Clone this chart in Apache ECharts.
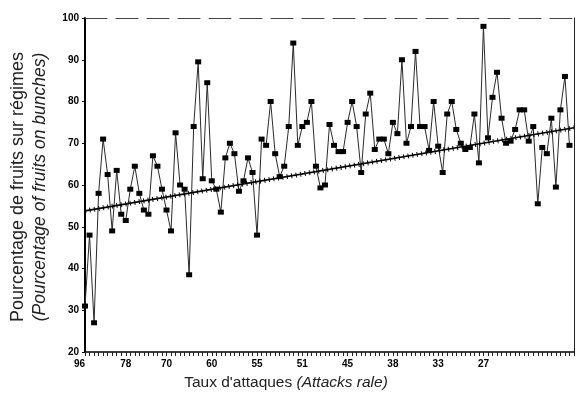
<!DOCTYPE html>
<html>
<head>
<meta charset="utf-8">
<script src="https://cdn.jsdelivr.net/npm/echarts@6/dist/echarts.min.js"></script>
<style>
  html, body { margin: 0; padding: 0; background: #fff; }
  #chart { width: 577px; height: 397px; }
</style>
</head>
<body>
<div id="chart"></div>
<script>
// pourcentage de fruits, dans l'ordre des taux d'attaques décroissants
const fruitPct = [
  31, 48, 27, 58, 71, 62.5, 49, 63.5, 53, 51.5,
  59, 64.5, 58, 54, 53, 67, 64.5, 59, 54, 49,
  72.5, 60, 59, 38.5, 74, 89.5, 61.5, 84.5, 61, 59,
  53.5, 66.5, 70, 67.5, 58.5, 61, 66.5, 63, 48, 71,
  69.5, 80, 67.5, 62, 64.5, 74, 94, 69.5, 74, 75,
  80, 64.5, 59.3, 60, 74.5, 69.5, 68, 68, 75, 80,
  74, 63, 77, 82, 68.5, 71, 71, 67.5, 75, 72.3,
  90, 70, 74, 92, 74, 74, 68.3, 80, 69.3, 63,
  77, 80, 73.3, 70, 68.5, 69, 77, 65.3, 98, 71.3,
  81, 87, 76, 70, 70.5, 73.3, 78, 78, 70.5, 74,
  55.5, 69, 67.5, 76, 59.5, 78, 86, 69.5
];
// droite de régression : valeurs aux deux bords
const trendStart = 53.8;
const trendEnd = 73.7;
// étiquettes de l'axe x (taux d'attaques) et rang du point où elles tombent
const xTickLabels = ['96', '78', '70', '60', '55', '51', '45', '38', '33', '27'];
const xTickIndex = [0, 9, 18, 28, 38, 48, 58, 68, 78, 88];

const slots = [];
for (let i = 0; i <= fruitPct.length; i++) slots.push(String(i));
const lastSlot = slots.length - 1;
const trendData = [[0, trendStart], [lastSlot, trendEnd]];

const font = 'Liberation Sans, Arial, sans-serif';
const chart = echarts.init(document.getElementById('chart'), null, { renderer: 'canvas' });

chart.setOption({
  animation: false,
  backgroundColor: '#fff',
  grid: { left: 85, right: 1, top: 18, bottom: 45 },
  xAxis: [
    {
      type: 'category',
      data: slots,
      boundaryGap: false,
      axisLine: { lineStyle: { color: '#000', width: 1.5 } },
      axisTick: { interval: 0, length: 4, lineStyle: { color: '#222', width: 1 } },
      axisLabel: {
        interval: 0,
        margin: 7,
        color: '#000',
        fontFamily: font,
        fontWeight: 'bold',
        fontSize: 10,
        alignMinLabel: 'right',
        formatter: (v, idx) => {
          const k = xTickIndex.indexOf(idx);
          return k >= 0 ? xTickLabels[k] : '';
        }
      },
      splitLine: { show: false }
    },
    {
      type: 'category',
      position: 'top',
      data: slots,
      boundaryGap: false,
      axisLine: { lineStyle: { color: '#444', width: 1, type: [22, 9] } },
      axisTick: { show: false },
      axisLabel: { show: false }
    }
  ],
  yAxis: [
    {
      type: 'value',
      min: 20,
      max: 100,
      interval: 10,
      axisLine: { show: true, lineStyle: { color: '#000', width: 2 } },
      axisTick: { show: true, length: 3, lineStyle: { color: '#000' } },
      axisLabel: {
        margin: 6,
        color: '#000',
        fontFamily: font,
        fontWeight: 'bold',
        fontSize: 10
      },
      splitLine: { show: false }
    },
    {
      type: 'value',
      position: 'right',
      min: 20,
      max: 100,
      axisLine: { show: true, lineStyle: { color: '#222', width: 1 } },
      axisTick: { show: false },
      axisLabel: { show: false },
      splitLine: { show: false }
    }
  ],
  series: [
    {
      name: 'fruits',
      type: 'line',
      data: fruitPct,
      symbol: 'rect',
      symbolSize: [6, 5],
      itemStyle: { color: '#000' },
      lineStyle: { color: '#2a2a2a', width: 1 },
      z: 3
    },
    {
      name: 'tendance',
      type: 'line',
      data: trendData,
      symbol: 'none',
      lineStyle: { color: '#000', width: 1.6 },
      z: 4
    },
    {
      // petites graduations le long de la droite
      name: 'tendance-graduations',
      type: 'line',
      data: trendData,
      symbol: 'none',
      lineStyle: { color: '#000', width: 5, type: [1, 3.546] },
      z: 4
    }
  ],
  graphic: [
    {
      type: 'text',
      x: 286,
      y: 383,
      style: {
        text: "{n|Taux d'attaques }{i|(Attacks rale)}",
        align: 'center',
        verticalAlign: 'middle',
        rich: {
          n: { fontFamily: font, fontSize: 15.5, fill: '#222' },
          i: { fontFamily: font, fontSize: 15.5, fontStyle: 'italic', fill: '#222' }
        }
      }
    },
    {
      type: 'text',
      x: 29,
      y: 187,
      rotation: Math.PI / 2,
      style: {
        text: '{n|Pourcentage de fruits sur régimes}\n{i|(Pourcentage of fruits on bunches)}',
        align: 'center',
        verticalAlign: 'middle',
        rich: {
          n: { fontFamily: font, fontSize: 18, lineHeight: 22, fill: '#222' },
          i: { fontFamily: font, fontSize: 17.5, lineHeight: 22, fontStyle: 'italic', fill: '#222' }
        }
      }
    }
  ]
});
</script>
</body>
</html>
